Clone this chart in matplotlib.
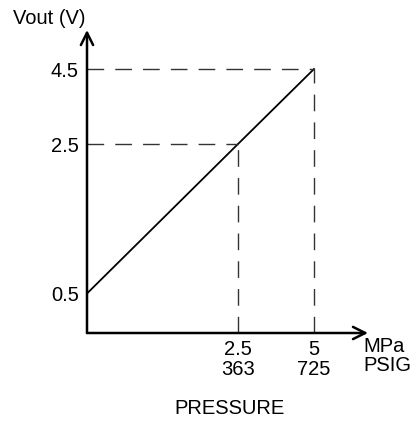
import numpy as np
import matplotlib
matplotlib.use('Agg')
import matplotlib.pyplot as plt

plt.rcParams.update({
    'font.family': ['Liberation Sans', 'DejaVu Sans'],
    'font.size': 14.5,
})

# transfer curve: output voltage vs pressure
pressure_mpa = [0.0, 2.5, 5.0]
vout = [0.5, 2.5, 4.5]
tick_mpa = [2.5, 5]
tick_psig = [363, 725]
tick_vout = [0.5, 2.5, 4.5]

# schematic (not to scale) axis spacing
x_knots, x_pos = [0.0, 2.5, 5.0, 10.0], [0.0, 151.0, 227.0, 379.0]
y_knots, y_pos = [0.0, 0.5, 2.5, 4.5, 10.0], [0.0, 39.5, 189.0, 264.0, 470.0]


def fwd(k, p):
    return lambda v: np.interp(v, k, p)


def inv(k, p):
    return lambda v: np.interp(v, p, k)


fig = plt.figure(figsize=(4.16, 4.29), dpi=100)
ax = fig.add_axes([87 / 416, (429 - 333) / 429, 281 / 416, 303 / 429])
ax.set_xscale('function', functions=(fwd(x_knots, x_pos), inv(x_knots, x_pos)))
ax.set_yscale('function', functions=(fwd(y_knots, y_pos), inv(y_knots, y_pos)))
ax.set_xlim(0, inv(x_knots, x_pos)(281))
ax.set_ylim(0, inv(y_knots, y_pos)(303))

ax.plot(pressure_mpa, vout, color='black', lw=1.3)

# guide lines to the key points
dash = dict(color='#333333', lw=1.0, dashes=(12, 8))
for p, v in zip(pressure_mpa[1:], vout[1:]):
    ax.plot([0, p], [v, v], **dash)
    ax.plot([p, p], [0, v], **dash)

for s in ax.spines.values():
    s.set_visible(False)
ax.tick_params(length=0)
ax.tick_params(axis='y', pad=6)
ax.tick_params(axis='x', pad=5)
ax.set_yticks(tick_vout)
ax.set_yticklabels([f'{v:.1f}' for v in tick_vout])
ax.set_xticks(tick_mpa)
ax.set_xticklabels([f'{m:g}\n{p}' for m, p in zip(tick_mpa, tick_psig)], linespacing=1.05)

# axes with open arrowheads
arrow = dict(arrowstyle='->', color='black', lw=1.8, mutation_scale=22, shrinkA=0, shrinkB=0)
ax.annotate('', xy=(0, 1), xytext=(0, 0), xycoords='axes fraction', arrowprops=arrow, annotation_clip=False)
ax.annotate('', xy=(1, 0), xytext=(0, 0), xycoords='axes fraction', arrowprops=arrow, annotation_clip=False)

fig.text(13 / 416, 1 - 18 / 429, 'Vout (V)', ha='left', va='center')
fig.text(363 / 416, 1 - 356 / 429, 'MPa\nPSIG', ha='left', va='center', linespacing=1.05)
fig.text(229 / 416, 1 - 409 / 429, 'PRESSURE', ha='center', va='center')

fig.savefig('out.png', dpi=100)
